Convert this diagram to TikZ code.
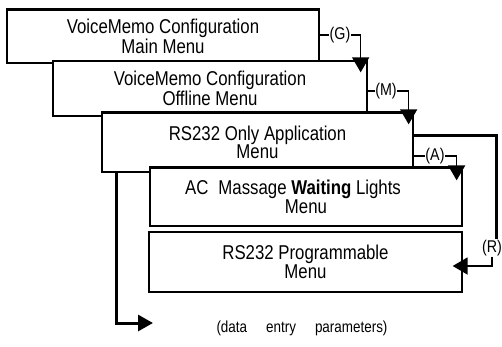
\documentclass[tikz,border=0pt]{standalone}
\usepackage{fontspec}
\setmainfont{Liberation Sans}[FakeStretch=0.84]
\usetikzlibrary{arrows.meta,calc}
\begin{document}
\begin{tikzpicture}[x=1pt,y=-1pt,
  menubox/.style={draw, line width=1.3pt, fill=white, font=\fontsize{20}{18.5}\selectfont, align=center, inner sep=0pt},
  keylbl/.style={font=\fontsize{17}{17}\selectfont, inner sep=0.5pt},
  keyarrow/.style={line width=1.5pt, -{Triangle[length=15pt,width=17pt]}},
  loopline/.style={line width=3pt},
  looparrow/.style={line width=3pt, -{Triangle[length=15pt,width=16pt]}},
  thicktop/.style={line width=2.8pt}]
\useasboundingbox (0,0) rectangle (502,346);

\node[menubox, minimum width=312pt, minimum height=53pt] (b1) at (163,36.5) {VoiceMemo Configuration\\Main Menu};
\draw[thicktop] (b1.north west) -- (b1.north east);
\node[menubox, minimum width=314pt, minimum height=55pt] (b2) at (210,88.5) {VoiceMemo Configuration\\Offline Menu};
\node[menubox, minimum width=311pt, minimum height=59pt] (b3) at (257.5,142.5) {RS232 Only Application\\Menu};
\draw[thicktop] (b3.north west) -- (b3.north east);
\node[menubox, minimum width=312pt, minimum height=58pt] (b4) at (306,197) {AC\enspace Massage \textbf{Waiting} Lights\hspace*{26pt}\\Menu};
\draw[thicktop] (b4.north west) -- (b4.north east);
\node[menubox, minimum width=313pt, minimum height=60pt] (b5) at (305.5,262) {RS232 Programmable\\Menu};

% key labels
\node[keylbl] (G) at (340,35) {(G)};
\node[keylbl] (M) at (386,91) {(M)};
\node[keylbl] (A) at (435,156) {(A)};
\node[keylbl] (R) at (492,248) {(R)};

% G
\draw[line width=1.2pt] (b1.east |- G.west) -- (G.west);
\draw[keyarrow] (G.east) -| ($(b2.north east)+(-7,12)$);
% M
\draw[line width=1.2pt] (b2.east |- M.west) -- (M.west);
\draw[keyarrow] (M.east) -| ($(b3.north east)+(-5,12)$);
% A
\draw[line width=1.2pt] (b3.east |- A.west) -- (A.west);
\draw[keyarrow] (A.east) -| ($(b4.north east)+(-6,13)$);
% R loop
\draw[loopline] ($(b3.north east)+(0,23)$) -| ($(R.north)+(4,0)$);
\draw[keyarrow, line width=1.8pt] (R.south) |- ($(b5.east)+(-10,4)$);

% data entry loop
\node[font=\fontsize{16}{16}\selectfont, inner sep=0pt] (data) at (302,328) {(data\hspace{19pt}entry\hspace{19pt}parameters)};
\coordinate (dtip) at (153,323);
\draw[looparrow] ($(b3.south west)+(15,0)$) |- (dtip);
\end{tikzpicture}
\end{document}
